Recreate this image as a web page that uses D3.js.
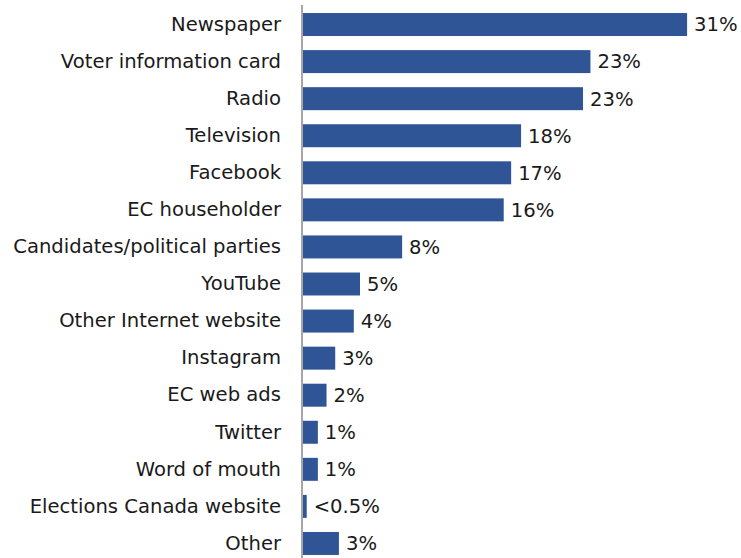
<!DOCTYPE html>
<html>
<head>
<meta charset="utf-8">
<script src="https://cdn.jsdelivr.net/npm/d3@7"></script>
<style>
  html, body { margin: 0; padding: 0; background: #ffffff; }
  svg { display: block; }
  text { font-family: "DejaVu Sans", sans-serif; fill: #1a1a1a; }
</style>
</head>
<body>
<svg id="chart" width="741" height="558"></svg>
<script>
// Sources where the election information was seen (% of respondents)
const categories = [
  "Newspaper",
  "Voter information card",
  "Radio",
  "Television",
  "Facebook",
  "EC householder",
  "Candidates/political parties",
  "YouTube",
  "Other Internet website",
  "Instagram",
  "EC web ads",
  "Twitter",
  "Word of mouth",
  "Elections Canada website",
  "Other"
];
const shares = [31.0, 23.2, 22.6, 17.6, 16.8, 16.2, 8.0, 4.6, 4.1, 2.6, 1.9, 1.2, 1.2, 0.3, 2.9];

const data = categories.map((c, i) => ({ category: c, value: shares[i] }));

const svg = d3.select("#chart");
const W = 741, H = 558;
const axisX = 302;
const fontSize = 19.6;

const x = d3.scaleLinear().domain([0, 35]).range([axisX + 1, axisX + 1 + 35 * 12.39]);
const y = d3.scaleBand()
  .domain(categories)
  .range([6, 562])
  .paddingInner(0.38)
  .paddingOuter(0.19);

const fmt = v => v < 0.5 ? "<0.5%" : Math.round(v) + "%";

// bars
svg.append("g")
  .selectAll("rect")
  .data(data)
  .join("rect")
  .attr("x", x(0))
  .attr("y", d => y(d.category))
  .attr("width", d => x(d.value) - x(0))
  .attr("height", y.bandwidth())
  .attr("fill", "#2f5597");

// category labels (left axis, no ticks)
const yAxis = d3.axisLeft(y).tickSize(0).tickPadding(21);
const gy = svg.append("g")
  .attr("transform", `translate(${axisX},0)`)
  .call(yAxis);
gy.select(".domain").remove();
gy.selectAll("text")
  .attr("font-size", fontSize)
  .style("font-family", "'DejaVu Sans', sans-serif")
  .attr("fill", "#1a1a1a");

// vertical baseline
svg.append("line")
  .attr("x1", axisX).attr("x2", axisX)
  .attr("y1", 5).attr("y2", H)
  .attr("stroke", "#a6a6a6")
  .attr("stroke-width", 2);

// value labels
svg.append("g")
  .selectAll("text")
  .data(data)
  .join("text")
  .attr("x", d => x(d.value) + 7)
  .attr("y", d => y(d.category) + y.bandwidth() / 2)
  .attr("dy", "0.35em")
  .attr("font-size", fontSize)
  .text(d => fmt(d.value));
</script>
</body>
</html>
